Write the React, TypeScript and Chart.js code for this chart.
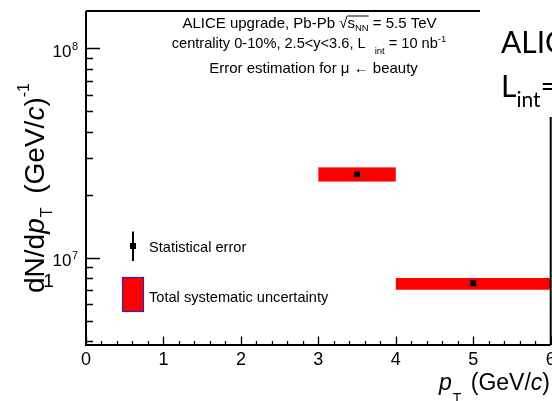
import React, { useEffect, useRef } from 'react';
import { Chart, registerables } from 'chart.js';

Chart.register(...registerables);

// ---- data ----
const binCenters = [3.5, 5.0];
const binLow = [3.0, 4.0];
const binHigh = [4.0, 6.0];
const yields = [2.5e7, 7.55e6];
const sysLow = [2.31e7, 7.03e6];
const sysHigh = [2.7e7, 8.0e6];

const xMin = 0;
const xMax = 6;
const yMin = 3.83e6;
const yMax = 1.507e8;
const xMajorTicks = [0, 1, 2, 3, 4, 5, 6];
const xTickLabels = ['0', '1', '2', '3', '4', '5', '6'];
const yMajorTicks = [1e7, 1e8];
const yTickExponents = ['7', '8'];
const yMinorTicks = [4e6, 5e6, 6e6, 7e6, 8e6, 9e6, 2e7, 3e7, 4e7, 5e7, 6e7, 7e7, 8e7, 9e7];

const F = '"Liberation Sans", Arial, Helvetica, sans-serif';
const BIG = 'Lato, "Open Sans", sans-serif';

type Seg = { t: string; size: number; dy?: number; dx?: number; italic?: boolean; over?: boolean; family?: string };

function setFont(ctx: CanvasRenderingContext2D, s: Seg) {
  ctx.font = `${s.italic ? 'italic ' : ''}${s.size}px ${s.family || F}`;
}
function richWidth(ctx: CanvasRenderingContext2D, segs: Seg[]) {
  let w = 0;
  for (const s of segs) {
    setFont(ctx, s);
    w += (s.dx || 0) + ctx.measureText(s.t).width;
  }
  return w;
}
function drawRich(ctx: CanvasRenderingContext2D, segs: Seg[], x: number, y: number, align: 'left' | 'center' | 'right' = 'left') {
  const w = richWidth(ctx, segs);
  let cx = align === 'left' ? x : align === 'center' ? x - w / 2 : x - w;
  ctx.textAlign = 'left';
  ctx.textBaseline = 'alphabetic';
  for (const s of segs) {
    setFont(ctx, s);
    cx += s.dx || 0;
    ctx.fillText(s.t, cx, y + (s.dy || 0));
    const sw = ctx.measureText(s.t).width;
    if (s.over) {
      ctx.beginPath();
      ctx.lineWidth = 1;
      ctx.moveTo(cx, y - 12);
      ctx.lineTo(cx + sw, y - 12);
      ctx.stroke();
    }
    cx += sw;
  }
}

const rootPlugin = {
  id: 'rootStyle',
  beforeDatasetsDraw(chart: any) {
    const ctx: CanvasRenderingContext2D = chart.ctx;
    const xs = chart.scales.x;
    const ys = chart.scales.y;
    ctx.save();
    ctx.fillStyle = '#ff0000';
    for (let i = 0; i < binCenters.length; i++) {
      const x1 = xs.getPixelForValue(binLow[i]);
      const x2 = xs.getPixelForValue(binHigh[i]);
      const y1 = ys.getPixelForValue(sysHigh[i]);
      const y2 = ys.getPixelForValue(sysLow[i]);
      ctx.fillRect(x1, y1, x2 - x1, y2 - y1);
    }
    ctx.restore();
  },
  afterDraw(chart: any) {
    const ctx: CanvasRenderingContext2D = chart.ctx;
    const xs = chart.scales.x;
    const ys = chart.scales.y;
    const a = chart.chartArea;
    ctx.save();
    ctx.strokeStyle = '#000';
    ctx.fillStyle = '#000';

    // frame
    ctx.lineWidth = 2;
    ctx.beginPath();
    ctx.moveTo(a.left, a.top);
    ctx.lineTo(a.left, a.bottom);
    ctx.lineTo(a.right, a.bottom);
    ctx.moveTo(a.left, a.top);
    ctx.lineTo(480, a.top);
    ctx.moveTo(a.right, 117);
    ctx.lineTo(a.right, a.bottom);
    ctx.stroke();

    // ticks
    ctx.lineWidth = 1.3;
    ctx.beginPath();
    for (const v of yMajorTicks) {
      const y = Math.round(ys.getPixelForValue(v)) + 0.5;
      ctx.moveTo(a.left, y);
      ctx.lineTo(a.left + 14, y);
    }
    for (const v of yMinorTicks) {
      const y = Math.round(ys.getPixelForValue(v)) + 0.5;
      ctx.moveTo(a.left, y);
      ctx.lineTo(a.left + 7, y);
    }
    for (let k = 0; k <= 30; k++) {
      const v = xMin + k * 0.2;
      const x = Math.round(xs.getPixelForValue(v)) + 0.5;
      const major = k % 5 === 0;
      ctx.moveTo(x, a.bottom);
      ctx.lineTo(x, a.bottom - (major ? 8.5 : 4));
    }
    ctx.stroke();

    // x tick labels
    ctx.font = `18px ${F}`;
    ctx.textAlign = 'center';
    ctx.textBaseline = 'alphabetic';
    xMajorTicks.forEach((v, i) => {
      ctx.fillText(xTickLabels[i], xs.getPixelForValue(v), 365);
    });

    // y tick labels
    yMajorTicks.forEach((v, i) => {
      const y = ys.getPixelForValue(v);
      ctx.font = `17px ${F}`;
      ctx.textAlign = 'right';
      ctx.fillText('10', 71.5, y + 8.4);
      ctx.font = `11px ${F}`;
      ctx.textAlign = 'left';
      ctx.fillText(yTickExponents[i], 72, y + 1.5);
    });

    // x axis title
    drawRich(ctx, [
      { t: 'p', size: 23, italic: true },
      { t: 'T', size: 14, dy: 13, dx: 1 },
      { t: ' (GeV/', size: 23, dx: 3 },
      { t: 'c', size: 23, italic: true },
      { t: ')', size: 23 },
    ], 550, 390, 'right');

    // y axis title
    ctx.save();
    ctx.translate(43.5, 293);
    ctx.rotate(-Math.PI / 2);
    drawRich(ctx, [
      { t: 'dN/d', size: 28 },
      { t: 'p', size: 28, italic: true },
      { t: 'T', size: 16, dy: 8, dx: 1 },
      { t: ' (GeV/', size: 28, dx: 6 },
      { t: 'c', size: 28, italic: true },
      { t: ')', size: 28 },
      { t: '-1', size: 16, dy: -15 },
    ], 0, 0, 'left');
    ctx.restore();
    ctx.font = `19px ${F}`;
    ctx.textAlign = 'center';
    ctx.fillText('1', 48.5, 287);

    // header text
    ctx.strokeStyle = '#000';
    drawRich(ctx, [
      { t: 'ALICE upgrade, Pb-Pb ', size: 15 },
      { t: '\u221A', size: 15 },
      { t: 's', size: 15, over: true },
      { t: 'NN', size: 9.5, dy: 3, over: true },
      { t: ' = 5.5 TeV', size: 15 },
    ], 309.5, 28, 'center');
    drawRich(ctx, [
      { t: 'centrality 0-10%, 2.5<y<3.6, L', size: 14.6 },
      { t: 'int', size: 9.5, dy: 6, dx: 9 },
      { t: ' = 10 nb', size: 14.6 },
      { t: '-1', size: 9.5, dy: -6 },
    ], 309, 48, 'center');
    drawRich(ctx, [
      { t: 'Error estimation for \u03BC \u2190 beauty', size: 15 },
    ], 313.5, 73, 'center');

    // legend
    ctx.lineWidth = 2;
    ctx.beginPath();
    ctx.moveTo(133, 231.5);
    ctx.lineTo(133, 261);
    ctx.stroke();
    ctx.fillRect(130, 243, 6, 6);
    ctx.fillStyle = '#ff0000';
    ctx.fillRect(122.5, 277.5, 21, 34);
    ctx.strokeStyle = '#2828a8';
    ctx.lineWidth = 1.2;
    ctx.strokeRect(122.5, 277.5, 21, 34);
    ctx.fillStyle = '#000';
    ctx.font = `14.6px ${F}`;
    ctx.textAlign = 'left';
    ctx.fillText('Statistical error', 149, 252);
    ctx.fillText('Total systematic uncertainty', 149, 301.5);

    // overlaid large text (cut at the right edge)
    drawRich(ctx, [{ t: 'ALICE', size: 30, family: BIG }], 501, 53, 'left');
    drawRich(ctx, [
      { t: 'L', size: 30, family: BIG },
      { t: 'int', size: 21, dy: 10, family: BIG },
      { t: '=', size: 30, family: BIG },
    ], 501, 97, 'left');

    ctx.restore();
  },
};

export default function App() {
  const ref = useRef<HTMLCanvasElement>(null);
  useEffect(() => {
    document.body.style.margin = '0';
    const canvas = ref.current!;
    const chart = new Chart(canvas, {
      type: 'scatter',
      data: {
        datasets: [
          {
            data: binCenters.map((x, i) => ({ x, y: yields[i] })),
            pointStyle: 'rect',
            pointRadius: 4.2,
            backgroundColor: '#000',
            borderColor: '#000',
            borderWidth: 0,
          },
        ],
      },
      options: {
        responsive: false,
        animation: false,
        devicePixelRatio: 1,
        layout: { autoPadding: false, padding: { left: 86, top: 11, right: 1.3, bottom: 56 } },
        scales: {
          x: { type: 'linear', min: xMin, max: xMax, display: false },
          y: { type: 'logarithmic', min: yMin, max: yMax, display: false },
        },
        plugins: { legend: { display: false }, tooltip: { enabled: false } },
      },
      plugins: [rootPlugin],
    } as any);
    return () => chart.destroy();
  }, []);
  return <canvas ref={ref} width={552} height={401} style={{ display: 'block' }} />;
}
